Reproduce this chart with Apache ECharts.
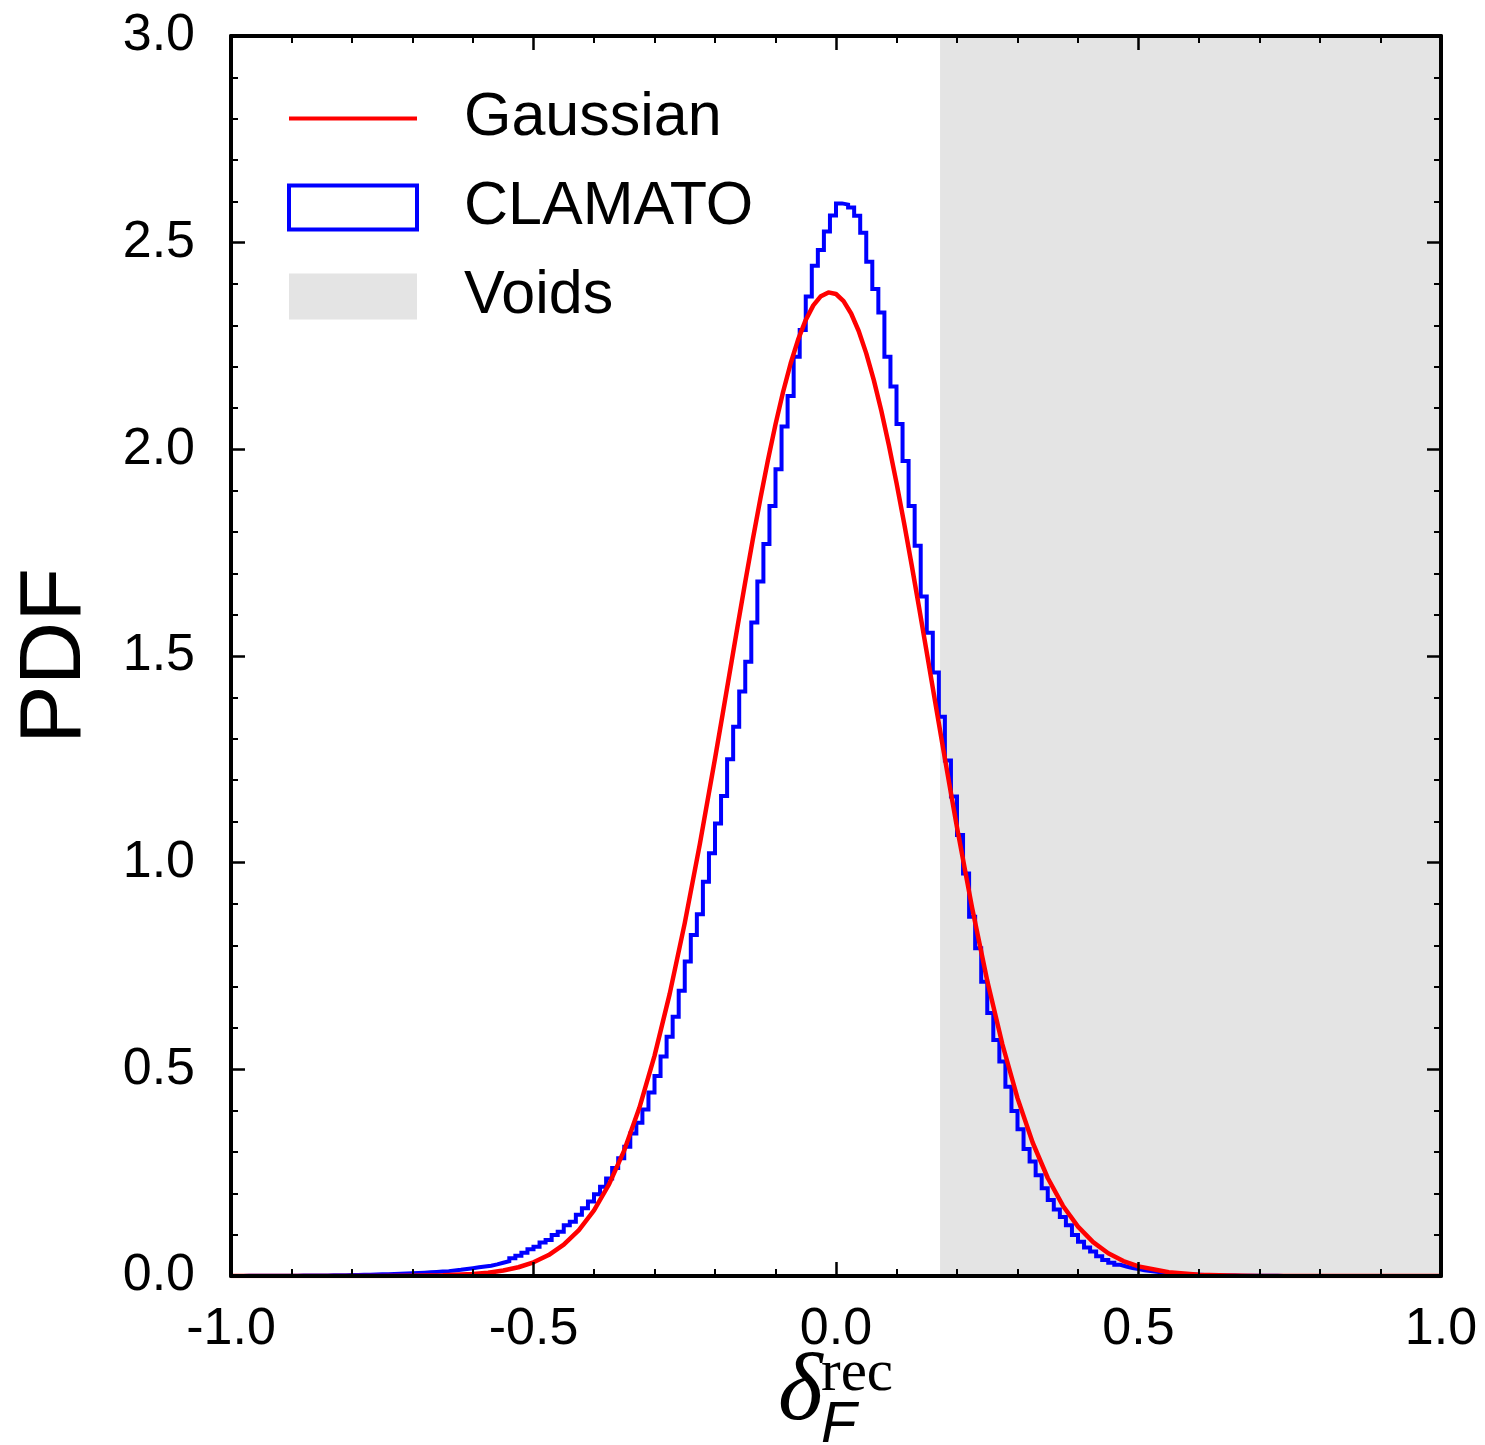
<!DOCTYPE html>
<html>
<head>
<meta charset="utf-8">
<script src="https://cdn.jsdelivr.net/npm/echarts@6/dist/echarts.min.js"></script>
<style>
html, body { margin: 0; padding: 0; background: #ffffff; }
#chart { width: 1485px; height: 1445px; }
</style>
</head>
<body>
<div id="chart"></div>
<script>
// ---------------- data ----------------
const binStart = -1.0;
const binWidth = 0.01;
// CLAMATO histogram (PDF per 0.01 bin, from -1.00 to 1.00)
const histValues = [
  0.0003,0.0003,0.0004,0.0004,0.0005,0.0005,0.0006,0.0006,0.0007,0.0008,
  0.0009,0.0010,0.0011,0.0012,0.0013,0.0015,0.0017,0.0019,0.0021,0.0024,
  0.0027,0.0030,0.0033,0.0036,0.0040,0.0044,0.0049,0.0054,0.0060,0.0066,
  0.0073,0.0080,0.0088,0.0097,0.0107,0.0118,0.0135,0.0150,0.0170,0.0190,
  0.021,0.023,0.025,0.028,0.032,0.036,0.043,0.049,0.056,0.065,
  0.071,0.081,0.087,0.099,0.107,0.123,0.131,0.148,0.164,0.180,
  0.198,0.216,0.236,0.261,0.285,0.313,0.345,0.371,0.403,0.444,
  0.484,0.531,0.579,0.627,0.690,0.761,0.825,0.875,0.954,1.023,
  1.095,1.161,1.250,1.329,1.414,1.486,1.581,1.680,1.771,1.863,
  1.952,2.055,2.129,2.224,2.289,2.370,2.444,2.482,2.527,2.566,
  2.595,2.592,2.585,2.565,2.524,2.454,2.388,2.331,2.224,2.152,
  2.061,1.972,1.863,1.767,1.644,1.556,1.460,1.353,1.247,1.160,
  1.067,0.974,0.869,0.793,0.712,0.636,0.571,0.519,0.458,0.399,
  0.355,0.307,0.277,0.244,0.212,0.184,0.161,0.143,0.123,0.099,
  0.083,0.069,0.059,0.048,0.039,0.032,0.027,0.023,0.019,0.017,
  0.014,0.012,0.010,0.0085,0.0072,0.0060,0.0050,0.0042,0.0035,0.0030,
  0.0025,0.0020,0.0017,0.0014,0.0012,0.0010,0.0009,0.0008,0.0007,0.0006,
  0.0005,0.0004,0.0004,0.0003,0.0003,0.0002,0.0002,0.0002,0.0001,0.0001,
  0.0001,0.0001,0.0001,0.0001,0.0001,0.0001,0.0001,0.0001,0.0001,0.0001,
  0,0,0,0,0,0,0,0,0,0
];
// Gaussian curve
const gaussX = [
  -1.0,-0.9,-0.8,-0.75,-0.7,-0.65,-0.6,-0.575,-0.55,-0.525,
  -0.5,-0.475,-0.45,-0.425,-0.4,-0.375,-0.35,-0.325,-0.3,-0.275,
  -0.25,-0.225,-0.2,-0.1875,-0.175,-0.1625,-0.15,-0.1375,-0.125,-0.1125,
  -0.1,-0.0875,-0.075,-0.0625,-0.05,-0.0375,-0.025,-0.0125,0.0,0.0125,
  0.025,0.0375,0.05,0.0625,0.075,0.0875,0.1,0.1125,0.125,0.1375,
  0.15,0.1625,0.175,0.1875,0.2,0.225,0.25,0.275,0.3,0.325,
  0.35,0.375,0.4,0.425,0.45,0.475,0.5,0.55,0.6,0.65,
  0.7,0.75,0.8,0.9,1.0
];
const gaussY = [
  0,0,0.00004,0.00014,0.0005,0.0016,0.0048,0.0081,0.0133,0.0212,
  0.0332,0.0507,0.0759,0.1109,0.1588,0.2223,0.3040,0.4070,0.5326,0.6819,
  0.8537,1.0453,1.2516,1.3583,1.4659,1.5734,1.6791,1.7821,1.8807,1.9740,
  2.0604,2.1387,2.2077,2.2660,2.3131,2.3482,2.3705,2.3797,2.3758,2.3587,
  2.3286,2.2863,2.2322,2.1674,2.0927,2.0095,1.9188,1.8222,1.7208,1.6158,
  1.5089,1.4014,1.2943,1.1887,1.0855,0.8906,0.7145,0.5607,0.4303,0.3230,
  0.2371,0.1701,0.1194,0.0820,0.0550,0.0362,0.0232,0.0090,0.0032,0.0010,
  0.0003,0.0001,0.00003,0,0
];
const voidRange = [0.172, 1.0];
const xTickLabels = ['-1.0', '-0.5', '0.0', '0.5', '1.0'];
const yTickLabels = ['0.0', '0.5', '1.0', '1.5', '2.0', '2.5', '3.0'];
const seriesNames = ['Gaussian', 'CLAMATO', 'Voids'];

// ---------------- build ----------------
const histData = histValues.map((v, i) => [+(binStart + i * binWidth).toFixed(2), v]);
histData.push([+(binStart + histValues.length * binWidth).toFixed(2), histValues[histValues.length - 1]]);
const gaussData = gaussX.map((x, i) => [x, gaussY[i]]);
const voidData = [[voidRange[0], 3], [voidRange[1], 3]];

const FONT = '"Liberation Sans", Arial, Helvetica, sans-serif';
const SERIF = '"Liberation Serif", "DejaVu Serif", serif';

function axisBase(extra) {
  return Object.assign({
    type: 'value',
    axisLine: { show: true, onZero: false, lineStyle: { color: '#000', width: 4 } },
    axisTick: { show: true, inside: true, length: 14, lineStyle: { color: '#000', width: 2.5 } },
    minorTick: { show: true, splitNumber: 5, length: 7, lineStyle: { color: '#000', width: 2 } },
    splitLine: { show: false },
    minorSplitLine: { show: false },
    z: 10
  }, extra);
}

const chart = echarts.init(document.getElementById('chart'), null, { renderer: 'canvas' });
chart.setOption({
  animation: false,
  backgroundColor: '#ffffff',
  grid: { left: 231, right: 44, top: 36, bottom: 169, containLabel: false },
  xAxis: [
    axisBase({
      position: 'bottom', min: -1, max: 1, interval: 0.5,
      axisLabel: {
        show: true, margin: 28, fontSize: 52, fontFamily: FONT, color: '#000',
        formatter: v => xTickLabels[Math.round((v + 1) / 0.5)]
      }
    }),
    axisBase({
      position: 'top', min: -1, max: 1, interval: 0.5,
      axisLabel: { show: false }
    })
  ],
  yAxis: [
    axisBase({
      position: 'left', min: 0, max: 3, interval: 0.5,
      name: 'PDF', nameLocation: 'middle', nameGap: 131,
      nameTextStyle: { fontSize: 88, fontFamily: FONT, color: '#000' },
      axisLabel: {
        show: true, margin: 36, fontSize: 52, fontFamily: FONT, color: '#000',
        padding: [0, 0, 8, 0],
        formatter: v => yTickLabels[Math.round(v / 0.5)]
      }
    }),
    axisBase({
      position: 'right', min: 0, max: 3, interval: 0.5,
      axisLabel: { show: false }
    })
  ],
  legend: {
    orient: 'vertical', left: 287, top: 87, padding: 0,
    itemWidth: 128, itemHeight: 46, itemGap: 26,
    selectedMode: false,
    textStyle: { fontSize: 61, fontFamily: FONT, color: '#000', lineHeight: 63, padding: [0, 0, 0, 42] },
    data: [
      { name: seriesNames[0], icon: 'path://M0,0h128v4h-128z', itemStyle: { color: '#ff0000', borderWidth: 0 } },
      { name: seriesNames[1], icon: 'path://M0,0h128v44h-128z', itemStyle: { color: '#ffffff', borderColor: '#0000ff', borderWidth: 4 } },
      { name: seriesNames[2], icon: 'rect', itemStyle: { color: '#e4e4e4', borderWidth: 0 } }
    ]
  },
  series: [
    {
      name: seriesNames[2], type: 'line', data: voidData,
      symbol: 'none', silent: true, z: 1,
      itemStyle: { color: '#e4e4e4' },
      lineStyle: { width: 0, opacity: 0 },
      areaStyle: { color: '#e4e4e4', opacity: 1 }
    },
    {
      name: seriesNames[1], type: 'line', data: histData, step: 'end',
      symbol: 'none', silent: true, z: 3,
      itemStyle: { color: '#0000ff' },
      lineStyle: { color: '#0000ff', width: 4, join: 'miter' }
    },
    {
      name: seriesNames[0], type: 'line', data: gaussData, smooth: false,
      symbol: 'none', silent: true, z: 4,
      itemStyle: { color: '#ff0000' },
      lineStyle: { color: '#ff0000', width: 4.5, join: 'round' }
    }
  ],
  graphic: [
    { type: 'text', x: 778, y: 1394, z: 100,
      style: { text: 'δ', fontSize: 96, fontStyle: 'italic', fontFamily: SERIF, fill: '#000', align: 'left', verticalAlign: 'middle' } },
    { type: 'text', x: 821, y: 1374, z: 100,
      style: { text: 'rec', fontSize: 59, fontFamily: SERIF, fill: '#000', align: 'left', verticalAlign: 'middle' } },
    { type: 'text', x: 821, y: 1426, z: 100,
      style: { text: 'F', fontSize: 58, fontStyle: 'italic', fontFamily: FONT, fill: '#000', align: 'left', verticalAlign: 'middle' } }
  ]
});
</script>
</body>
</html>
